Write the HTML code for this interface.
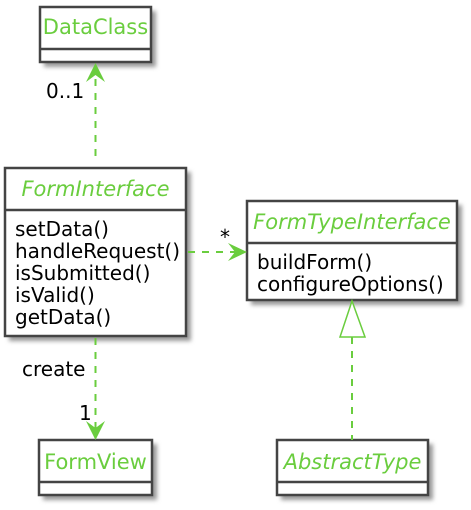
<!DOCTYPE html>
<html><head><style>
html,body{margin:0;padding:0;background:#fff;width:471px;height:510px;overflow:hidden}
.t{position:absolute;font-family:"DejaVu Sans","Liberation Sans",sans-serif;font-size:20px;line-height:22px;color:#000;white-space:nowrap}
.g{color:#6ACD3E;font-size:21px}
.i{font-style:italic}
.c{text-align:center}
</style></head>
<body>
<svg width="471" height="510" style="position:absolute;left:0;top:0" xmlns="http://www.w3.org/2000/svg">
<defs><filter id="s" x="-10%" y="-10%" width="130%" height="130%"><feGaussianBlur stdDeviation="2"/></filter></defs>
<g fill="#999" filter="url(#s)">
<rect x="44" y="11" width="112" height="56"/>
<rect x="9" y="172" width="182" height="169"/>
<rect x="251" y="205" width="211" height="100"/>
<rect x="43" y="444" width="114" height="56"/>
<rect x="281" y="444" width="152" height="56"/>
</g>
<g fill="#fff" stroke="#444" stroke-width="2.5">
<rect x="40" y="7" width="111" height="55"/>
<rect x="5" y="168" width="181" height="168"/>
<rect x="247" y="201" width="210" height="99"/>
<rect x="39" y="440" width="113" height="55"/>
<rect x="277" y="440" width="151" height="55"/>
<line x1="40" y1="49" x2="151" y2="49"/>
<line x1="5" y1="210" x2="186" y2="210"/>
<line x1="247" y1="243" x2="457" y2="243"/>
<line x1="39" y1="482" x2="152" y2="482"/>
<line x1="277" y1="482" x2="428" y2="482"/>
</g>
<g stroke="#6ACD3E" stroke-width="2" stroke-dasharray="7,7" fill="none">
<line x1="95.5" y1="156" x2="95.5" y2="70"/>
<line x1="95.5" y1="338" x2="95.5" y2="432"/>
<line x1="188" y1="252" x2="240" y2="252"/>
<line x1="352" y1="337" x2="352" y2="440"/>
</g>
<g fill="#6ACD3E">
<path d="M95.5 63 L86 82 L95.5 75 L105 82 Z"/>
<path d="M95.5 440 L86 421 L95.5 428 L105 421 Z"/>
<path d="M247 252 L228 243 L235 252 L228 261 Z"/>
</g>
<path d="M352 301 L340 337 L365 337 Z" fill="#fff" stroke="#6ACD3E" stroke-width="1.5"/>
</svg>
<div class="t g c" style="left:40px;top:16px;width:111px">DataClass</div>
<div class="t g i c" style="left:5px;top:178px;width:181px">FormInterface</div>
<div class="t g i c" style="left:247px;top:211px;width:210px">FormTypeInterface</div>
<div class="t g c" style="left:39px;top:451px;width:113px">FormView</div>
<div class="t g i c" style="left:277px;top:451px;width:151px">AbstractType</div>
<div class="t" style="left:15px;top:218px">setData()<br>handleRequest()<br>isSubmitted()<br>isValid()<br>getData()</div>
<div class="t" style="left:257px;top:251px">buildForm()<br>configureOptions()</div>
<div class="t" style="left:46px;top:80px">0..1</div>
<div class="t" style="left:22px;top:358px">create</div>
<div class="t" style="left:79px;top:402px">1</div>
<div class="t" style="left:220px;top:226px">*</div>
</body></html>
